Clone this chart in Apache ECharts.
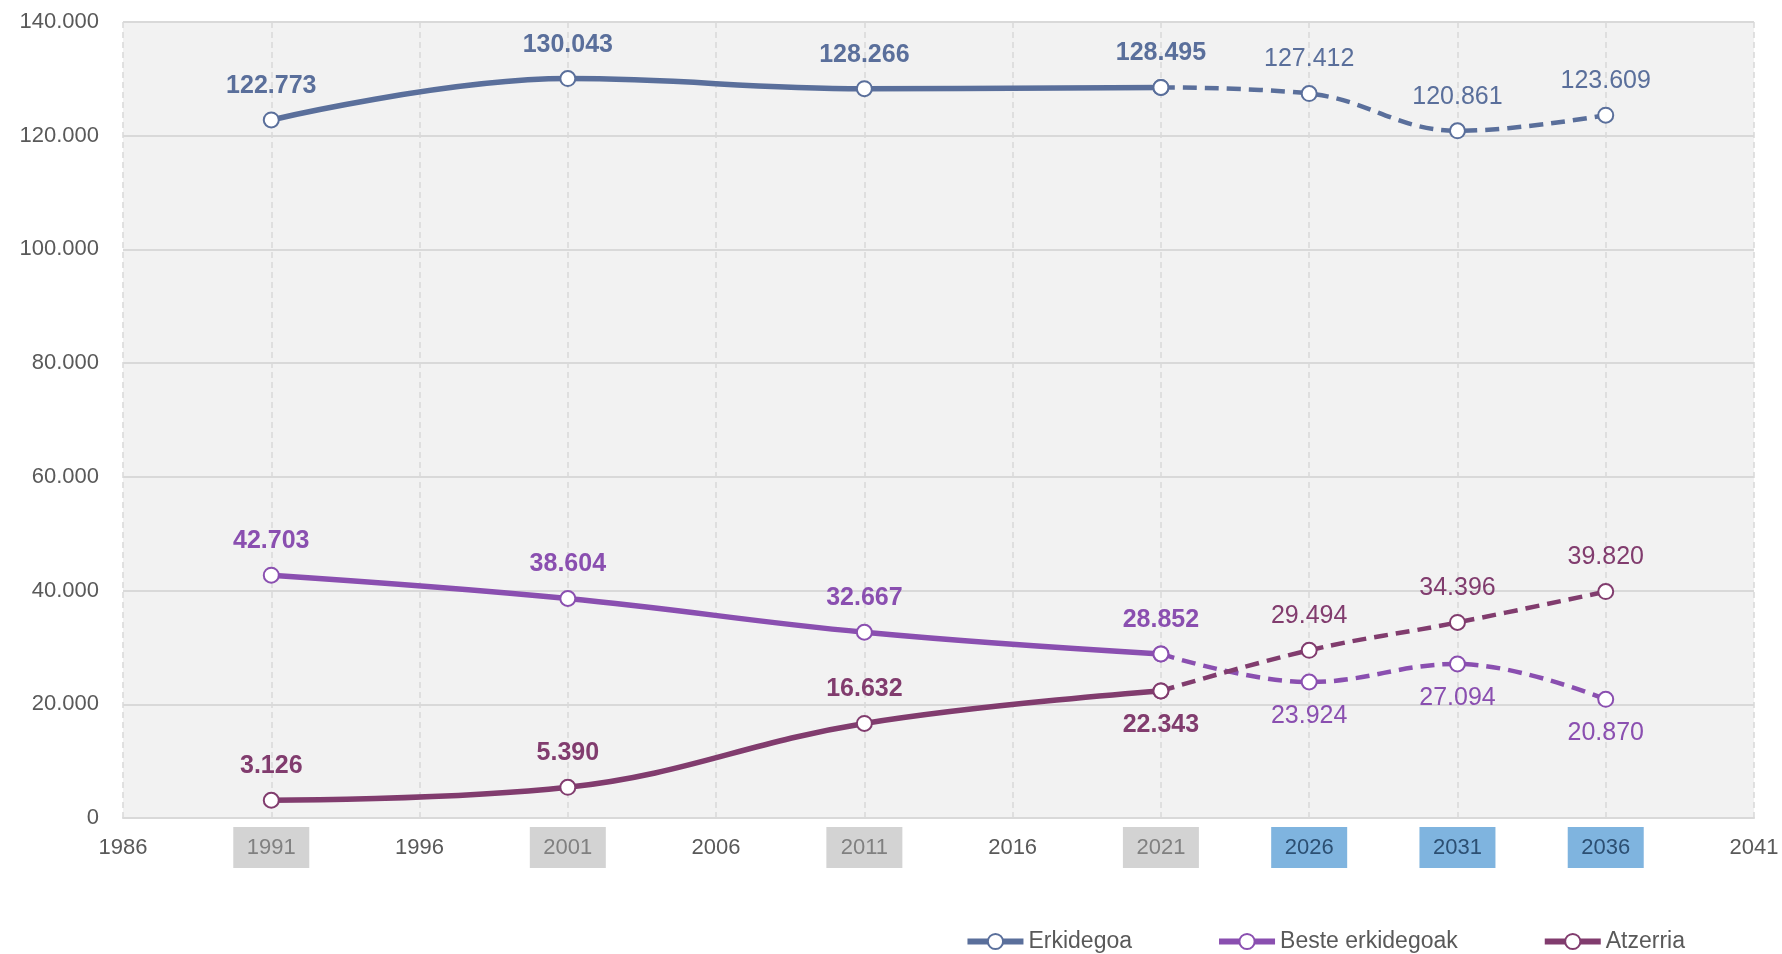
<!DOCTYPE html>
<html>
<head>
<meta charset="utf-8">
<script src="https://cdn.jsdelivr.net/npm/echarts@6/dist/echarts.min.js"></script>
<style>
  html, body { margin: 0; padding: 0; background: #fff; }
  #chart { width: 1782px; height: 954px; }
</style>
</head>
<body>
<div id="chart"></div>
<script>
// datos
const BASE_YEAR = 1986;
const censusYears = [1991, 2001, 2011, 2021];
const projYears = [2021, 2026, 2031, 2036];
const greyYears = [1991, 2001, 2011, 2021];
const blueYears = [2026, 2031, 2036];

const erkidegoaCensus = [122773, 130043, 128266, 128495];
const erkidegoaProj = [128495, 127412, 120861, 123609];
const besteCensus = [42703, 38604, 32667, 28852];
const besteProj = [28852, 23924, 27094, 20870];
const atzerriaCensus = [3126, 5390, 16632, 22343];
const atzerriaProj = [22343, 29494, 34396, 39820];

const seriesNames = ['Erkidegoa', 'Beste erkidegoak', 'Atzerria'];
const colors = ['#5a6f9b', '#8a4fb0', '#813c6e'];

const fmt = v => v.toLocaleString('de-DE');
const FONT = '"Liberation Sans", Arial, sans-serif';

const chart = echarts.init(document.getElementById('chart'));

const makeSeries = (name, color, years, vals, dashed, belowIdx) => ({
    name: name,
    type: 'line',
    smooth: 0.4,
    symbol: 'emptyCircle',
    symbolSize: 15,
    z: dashed ? 2 : 3,
    lineStyle: { color: color, width: dashed ? 4.5 : 5.5, type: dashed ? [14, 8] : 'solid' },
    itemStyle: { color: color, borderColor: color, borderWidth: 2 },
    emphasis: { disabled: true },
    data: years.map((y, i) => ({
        value: [y - BASE_YEAR, vals[i]],
        label: {
            show: !(dashed && i === 0),
            position: belowIdx.includes(i) ? 'bottom' : 'top',
            distance: 13,
            formatter: p => fmt(p.value[1]),
            color: color,
            fontSize: 25,
            fontWeight: dashed ? 'normal' : 'bold',
            fontFamily: FONT
        }
    }))
});

const series = [
    makeSeries(seriesNames[0], colors[0], censusYears, erkidegoaCensus, false, []),
    makeSeries(seriesNames[0], colors[0], projYears, erkidegoaProj, true, []),
    makeSeries(seriesNames[1], colors[1], censusYears, besteCensus, false, []),
    makeSeries(seriesNames[1], colors[1], projYears, besteProj, true, [1, 2, 3]),
    makeSeries(seriesNames[2], colors[2], censusYears, atzerriaCensus, false, [3]),
    makeSeries(seriesNames[2], colors[2], projYears, atzerriaProj, true, [])
];

const option = {
    animation: false,
    backgroundColor: '#ffffff',
    grid: { left: 123, top: 22, right: 28, bottom: 136, backgroundColor: '#f2f2f2', show: true, borderWidth: 0 },
    legend: {
        data: seriesNames,
        right: 92,
        top: 925,
        itemWidth: 56,
        itemHeight: 19,
        itemGap: 84,
        lineStyle: { width: 6 },
        itemStyle: { borderWidth: 2 },
        textStyle: { color: '#595959', fontSize: 23, fontFamily: FONT },
        selectedMode: false
    },
    xAxis: {
        type: 'value',
        min: 0,
        max: 55,
        interval: 5,
        axisLine: { show: true, lineStyle: { color: '#d9d9d9', width: 2 } },
        axisTick: { show: false },
        splitLine: { show: true, lineStyle: { color: '#d9d9d9', type: [6, 4], width: 1.5 } },
        axisLabel: {
            margin: 9,
            fontFamily: FONT,
            formatter: v => {
                const y = v + BASE_YEAR;
                if (greyYears.includes(y)) return '{g|' + y + '}';
                if (blueYears.includes(y)) return '{b|' + y + '}';
                return '{n|' + y + '}';
            },
            rich: {
                n: { color: '#595959', fontSize: 22, fontFamily: FONT, width: 76, height: 41, align: 'center', verticalAlign: 'middle' },
                g: { color: '#808080', fontSize: 22, fontFamily: FONT, width: 76, height: 41, align: 'center', verticalAlign: 'middle', backgroundColor: '#d3d3d3' },
                b: { color: '#2c4f72', fontSize: 22, fontFamily: FONT, width: 76, height: 41, align: 'center', verticalAlign: 'middle', backgroundColor: '#7fb4df' }
            }
        }
    },
    yAxis: {
        type: 'value',
        min: 0,
        max: 140000,
        interval: 20000,
        axisLine: { show: false },
        axisTick: { show: false },
        splitLine: { show: true, lineStyle: { color: '#d9d9d9', width: 2 } },
        axisLabel: {
            margin: 24,
            color: '#595959',
            fontSize: 22,
            fontFamily: FONT,
            formatter: v => fmt(v)
        }
    },
    series: series
};

chart.setOption(option);
</script>
</body>
</html>
